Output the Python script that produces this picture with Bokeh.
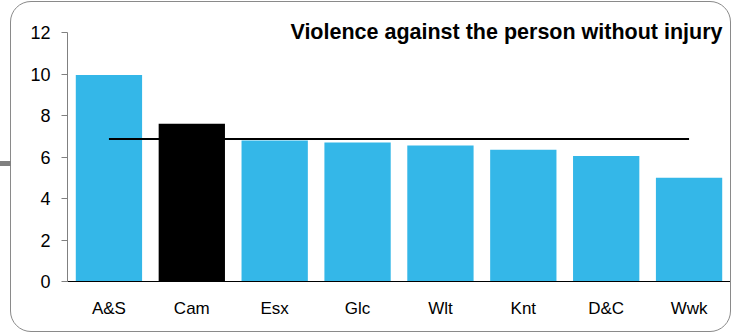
from bokeh.plotting import figure
from bokeh.models import ColumnDataSource, FactorRange, Range1d, Label, FixedTicker, InlineStyleSheet
from bokeh.embed import file_html
from bokeh.resources import INLINE

categories = ["A&S", "Cam", "Esx", "Glc", "Wlt", "Knt", "D&C", "Wwk"]
values = [9.95, 7.6, 6.8, 6.7, 6.55, 6.35, 6.05, 5.0]
average = 6.87
highlight = "Cam"
y_ticks = [0, 2, 4, 6, 8, 10, 12]
title_text = "Violence against the person without injury"

BLUE = "#34B7E8"
colors = ["#000000" if c == highlight else BLUE for c in categories]

src = ColumnDataSource(dict(cat=categories, val=values, color=colors))

PX = 20.75  # px per unit
p = figure(width=719, height=329, output_backend="svg", toolbar_location=None,
           x_range=FactorRange(factors=categories, range_padding=0),
           y_range=Range1d(0, 12 + 22 / PX), tools="")
p.styles = {"outline": "1.5px solid #8a8a8a", "border-radius": "20px",
            "margin-left": "11px", "margin-top": "2px"}
p.stylesheets = [InlineStyleSheet(css=":host::before { content: ''; position: absolute; left: -11px; top: 159px; width: 11px; height: 5px; background: #808080; }")]
p.min_border_left = 56
p.min_border_right = 0
p.min_border_top = 8
p.min_border_bottom = 50
p.outline_line_color = None
p.background_fill_color = None
p.border_fill_color = None
p.xgrid.visible = False
p.ygrid.visible = False

p.vbar(x="cat", top="val", width=0.8, color="color", line_color=None, source=src)
p.line(x=[categories[0], categories[-1]], y=[average, average], line_color="black", line_width=2)

ya = p.yaxis[0]
ya.ticker = FixedTicker(ticks=y_ticks)
ya.bounds = (0, 12)
ya.axis_line_color = "#808080"
ya.major_tick_line_color = "#808080"
ya.major_tick_out = 6
ya.major_tick_in = 0
ya.minor_tick_line_color = None
ya.major_label_text_font = "Liberation Sans"
ya.major_label_text_font_size = "18px"
ya.major_label_text_color = "black"
ya.major_label_standoff = 11

xa = p.xaxis[0]
xa.axis_line_color = "black"
xa.major_tick_line_color = None
xa.minor_tick_line_color = None
xa.major_label_text_font = "Liberation Sans"
xa.major_label_text_font_size = "17px"
xa.major_label_text_color = "black"
xa.major_label_standoff = 11

p.add_layout(Label(x=711, y=29, x_units="canvas", y_units="canvas", text=title_text,
                   text_align="right", text_baseline="middle", text_font="Liberation Sans",
                   text_font_style="bold", text_font_size="21.5px", text_color="black"))

open("out.html", "w").write(file_html(p, INLINE))
